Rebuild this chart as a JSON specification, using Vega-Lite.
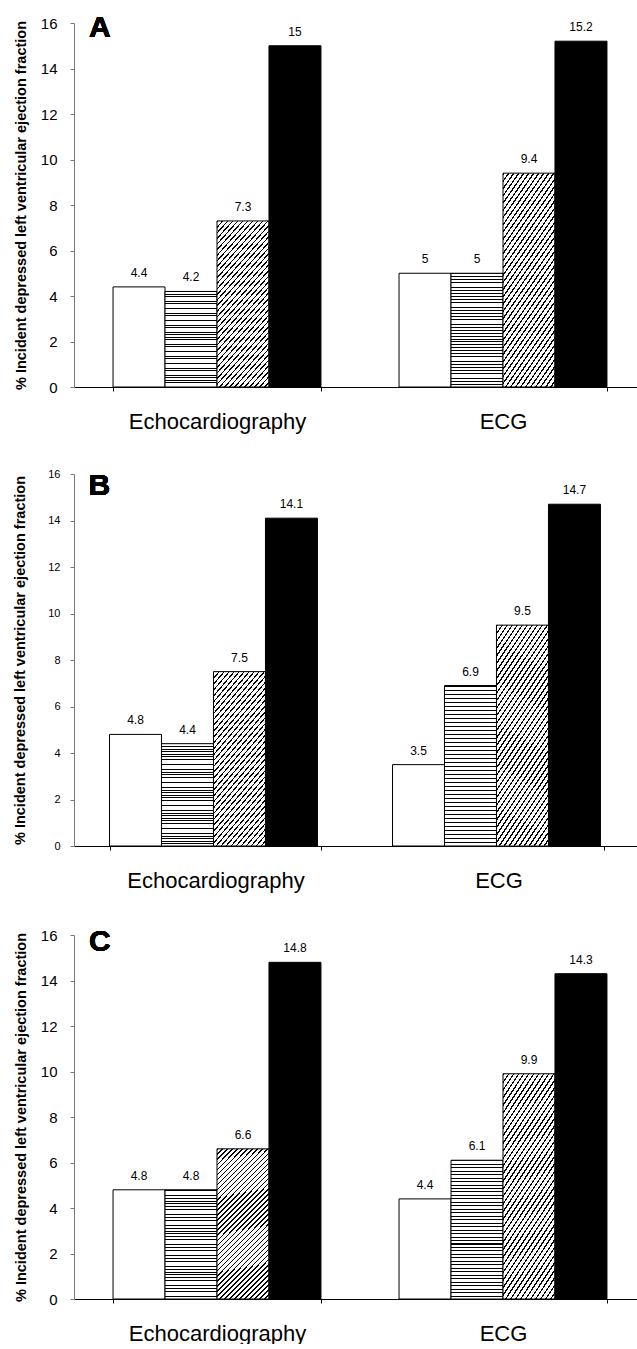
{
"$schema": "https://vega.github.io/schema/vega-lite/v6.json",
"padding": {"left": 12, "top": 13, "right": 0, "bottom": 0},
"autosize": {"type": "pad"},
"columns": 1,
"spacing": 36,
"datasets": {
"A": [
{"group": "Echocardiography", "cat": "w", "value": 4.4},
{"group": "Echocardiography", "cat": "h", "value": 4.2},
{"group": "Echocardiography", "cat": "d", "value": 7.3},
{"group": "Echocardiography", "cat": "b", "value": 15},
{"group": "ECG", "cat": "w", "value": 5},
{"group": "ECG", "cat": "h", "value": 5},
{"group": "ECG", "cat": "d", "value": 9.4},
{"group": "ECG", "cat": "b", "value": 15.2}
],
"B": [
{"group": "Echocardiography", "cat": "w", "value": 4.8},
{"group": "Echocardiography", "cat": "h", "value": 4.4},
{"group": "Echocardiography", "cat": "d", "value": 7.5},
{"group": "Echocardiography", "cat": "b", "value": 14.1},
{"group": "ECG", "cat": "w", "value": 3.5},
{"group": "ECG", "cat": "h", "value": 6.9},
{"group": "ECG", "cat": "d", "value": 9.5},
{"group": "ECG", "cat": "b", "value": 14.7}
],
"C": [
{"group": "Echocardiography", "cat": "w", "value": 4.8},
{"group": "Echocardiography", "cat": "h", "value": 4.8},
{"group": "Echocardiography", "cat": "d", "value": 6.6},
{"group": "Echocardiography", "cat": "b", "value": 14.8},
{"group": "ECG", "cat": "w", "value": 4.4},
{"group": "ECG", "cat": "h", "value": 6.1},
{"group": "ECG", "cat": "d", "value": 9.9},
{"group": "ECG", "cat": "b", "value": 14.3}
]
},
"concat": [
{
"width": 572, "height": 364,
"data": {"name": "A"},
"encoding": {
"x": {"field": "group", "type": "nominal", "sort": ["Echocardiography", "ECG"], "scale": {"paddingInner": 0.273, "paddingOuter": 0.1365},
"axis": {"title": null, "labelFontSize": 22, "labelColor": "#000", "labelPadding": 20, "labelAngle": 0, "tickBand": "extent", "tickSize": 4, "tickColor": "#000", "domainColor": "#000", "grid": false}},
"xOffset": {"field": "cat", "type": "nominal", "scale": {"domain": ["w", "h", "d", "b"], "paddingInner": 0, "paddingOuter": 0}},
"y": {"field": "value", "type": "quantitative", "scale": {"domain": [0, 16], "nice": false},
"axis": {"values": [0, 2, 4, 6, 8, 10, 12, 14, 16], "title": "% Incident depressed left ventricular ejection fraction", "titleFontSize": 14.5, "titleFontWeight": "bold", "titleColor": "#000", "titlePadding": 12, "labelFontSize": 15, "labelColor": "#000", "labelPadding": 13, "tickSize": 4, "tickColor": "#777", "domainColor": "#777", "grid": false}}
},
"layer": [
{"transform": [{"filter": "datum.cat == 'w'"}], "mark": {"type": "bar", "fill": "#fff", "stroke": "#000", "strokeWidth": 1}},
{"transform": [{"filter": "datum.cat == 'h'"}], "mark": {"type": "bar", "stroke": "#000", "strokeWidth": 1, "fill": {"gradient": "linear", "x1": 0, "y1": 0, "x2": 0, "y2": 1, "stops": [
{"offset":0,"color":"#000"},{"offset":0.0075,"color":"#000"},{"offset":0.0075,"color":"#fff"},{"offset":0.025,"color":"#fff"},
{"offset":0.025,"color":"#000"},{"offset":0.0325,"color":"#000"},{"offset":0.0325,"color":"#fff"},{"offset":0.05,"color":"#fff"},
{"offset":0.05,"color":"#000"},{"offset":0.0575,"color":"#000"},{"offset":0.0575,"color":"#fff"},{"offset":0.075,"color":"#fff"},
{"offset":0.075,"color":"#000"},{"offset":0.0825,"color":"#000"},{"offset":0.0825,"color":"#fff"},{"offset":0.1,"color":"#fff"},
{"offset":0.1,"color":"#000"},{"offset":0.1075,"color":"#000"},{"offset":0.1075,"color":"#fff"},{"offset":0.125,"color":"#fff"},
{"offset":0.125,"color":"#000"},{"offset":0.1325,"color":"#000"},{"offset":0.1325,"color":"#fff"},{"offset":0.15,"color":"#fff"},
{"offset":0.15,"color":"#000"},{"offset":0.1575,"color":"#000"},{"offset":0.1575,"color":"#fff"},{"offset":0.175,"color":"#fff"},
{"offset":0.175,"color":"#000"},{"offset":0.1825,"color":"#000"},{"offset":0.1825,"color":"#fff"},{"offset":0.2,"color":"#fff"},
{"offset":0.2,"color":"#000"},{"offset":0.2075,"color":"#000"},{"offset":0.2075,"color":"#fff"},{"offset":0.225,"color":"#fff"},
{"offset":0.225,"color":"#000"},{"offset":0.2325,"color":"#000"},{"offset":0.2325,"color":"#fff"},{"offset":0.25,"color":"#fff"},
{"offset":0.25,"color":"#000"},{"offset":0.2575,"color":"#000"},{"offset":0.2575,"color":"#fff"},{"offset":0.275,"color":"#fff"},
{"offset":0.275,"color":"#000"},{"offset":0.2825,"color":"#000"},{"offset":0.2825,"color":"#fff"},{"offset":0.3,"color":"#fff"},
{"offset":0.3,"color":"#000"},{"offset":0.3075,"color":"#000"},{"offset":0.3075,"color":"#fff"},{"offset":0.325,"color":"#fff"},
{"offset":0.325,"color":"#000"},{"offset":0.3325,"color":"#000"},{"offset":0.3325,"color":"#fff"},{"offset":0.35,"color":"#fff"},
{"offset":0.35,"color":"#000"},{"offset":0.3575,"color":"#000"},{"offset":0.3575,"color":"#fff"},{"offset":0.375,"color":"#fff"},
{"offset":0.375,"color":"#000"},{"offset":0.3825,"color":"#000"},{"offset":0.3825,"color":"#fff"},{"offset":0.4,"color":"#fff"},
{"offset":0.4,"color":"#000"},{"offset":0.4075,"color":"#000"},{"offset":0.4075,"color":"#fff"},{"offset":0.425,"color":"#fff"},
{"offset":0.425,"color":"#000"},{"offset":0.4325,"color":"#000"},{"offset":0.4325,"color":"#fff"},{"offset":0.45,"color":"#fff"},
{"offset":0.45,"color":"#000"},{"offset":0.4575,"color":"#000"},{"offset":0.4575,"color":"#fff"},{"offset":0.475,"color":"#fff"},
{"offset":0.475,"color":"#000"},{"offset":0.4825,"color":"#000"},{"offset":0.4825,"color":"#fff"},{"offset":0.5,"color":"#fff"},
{"offset":0.5,"color":"#000"},{"offset":0.5075,"color":"#000"},{"offset":0.5075,"color":"#fff"},{"offset":0.525,"color":"#fff"},
{"offset":0.525,"color":"#000"},{"offset":0.5325,"color":"#000"},{"offset":0.5325,"color":"#fff"},{"offset":0.55,"color":"#fff"},
{"offset":0.55,"color":"#000"},{"offset":0.5575,"color":"#000"},{"offset":0.5575,"color":"#fff"},{"offset":0.575,"color":"#fff"},
{"offset":0.575,"color":"#000"},{"offset":0.5825,"color":"#000"},{"offset":0.5825,"color":"#fff"},{"offset":0.6,"color":"#fff"},
{"offset":0.6,"color":"#000"},{"offset":0.6075,"color":"#000"},{"offset":0.6075,"color":"#fff"},{"offset":0.625,"color":"#fff"},
{"offset":0.625,"color":"#000"},{"offset":0.6325,"color":"#000"},{"offset":0.6325,"color":"#fff"},{"offset":0.65,"color":"#fff"},
{"offset":0.65,"color":"#000"},{"offset":0.6575,"color":"#000"},{"offset":0.6575,"color":"#fff"},{"offset":0.675,"color":"#fff"},
{"offset":0.675,"color":"#000"},{"offset":0.6825,"color":"#000"},{"offset":0.6825,"color":"#fff"},{"offset":0.7,"color":"#fff"},
{"offset":0.7,"color":"#000"},{"offset":0.7075,"color":"#000"},{"offset":0.7075,"color":"#fff"},{"offset":0.725,"color":"#fff"},
{"offset":0.725,"color":"#000"},{"offset":0.7325,"color":"#000"},{"offset":0.7325,"color":"#fff"},{"offset":0.75,"color":"#fff"},
{"offset":0.75,"color":"#000"},{"offset":0.7575,"color":"#000"},{"offset":0.7575,"color":"#fff"},{"offset":0.775,"color":"#fff"},
{"offset":0.775,"color":"#000"},{"offset":0.7825,"color":"#000"},{"offset":0.7825,"color":"#fff"},{"offset":0.8,"color":"#fff"},
{"offset":0.8,"color":"#000"},{"offset":0.8075,"color":"#000"},{"offset":0.8075,"color":"#fff"},{"offset":0.825,"color":"#fff"},
{"offset":0.825,"color":"#000"},{"offset":0.8325,"color":"#000"},{"offset":0.8325,"color":"#fff"},{"offset":0.85,"color":"#fff"},
{"offset":0.85,"color":"#000"},{"offset":0.8575,"color":"#000"},{"offset":0.8575,"color":"#fff"},{"offset":0.875,"color":"#fff"},
{"offset":0.875,"color":"#000"},{"offset":0.8825,"color":"#000"},{"offset":0.8825,"color":"#fff"},{"offset":0.9,"color":"#fff"},
{"offset":0.9,"color":"#000"},{"offset":0.9075,"color":"#000"},{"offset":0.9075,"color":"#fff"},{"offset":0.925,"color":"#fff"},
{"offset":0.925,"color":"#000"},{"offset":0.9325,"color":"#000"},{"offset":0.9325,"color":"#fff"},{"offset":0.95,"color":"#fff"},
{"offset":0.95,"color":"#000"},{"offset":0.9575,"color":"#000"},{"offset":0.9575,"color":"#fff"},{"offset":0.975,"color":"#fff"},
{"offset":0.975,"color":"#000"},{"offset":0.9825,"color":"#000"},{"offset":0.9825,"color":"#fff"},{"offset":1,"color":"#fff"}
]}}},
{"transform": [{"filter": "datum.cat == 'd'"}], "mark": {"type": "bar", "stroke": "#000", "strokeWidth": 1, "fill": {"gradient": "linear", "x1": 0, "y1": 0, "x2": 0.421, "y2": 1.2027, "stops": [
{"offset":0,"color":"#000"},{"offset":0.0075,"color":"#000"},{"offset":0.0075,"color":"#fff"},{"offset":0.025,"color":"#fff"},
{"offset":0.025,"color":"#000"},{"offset":0.0325,"color":"#000"},{"offset":0.0325,"color":"#fff"},{"offset":0.05,"color":"#fff"},
{"offset":0.05,"color":"#000"},{"offset":0.0575,"color":"#000"},{"offset":0.0575,"color":"#fff"},{"offset":0.075,"color":"#fff"},
{"offset":0.075,"color":"#000"},{"offset":0.0825,"color":"#000"},{"offset":0.0825,"color":"#fff"},{"offset":0.1,"color":"#fff"},
{"offset":0.1,"color":"#000"},{"offset":0.1075,"color":"#000"},{"offset":0.1075,"color":"#fff"},{"offset":0.125,"color":"#fff"},
{"offset":0.125,"color":"#000"},{"offset":0.1325,"color":"#000"},{"offset":0.1325,"color":"#fff"},{"offset":0.15,"color":"#fff"},
{"offset":0.15,"color":"#000"},{"offset":0.1575,"color":"#000"},{"offset":0.1575,"color":"#fff"},{"offset":0.175,"color":"#fff"},
{"offset":0.175,"color":"#000"},{"offset":0.1825,"color":"#000"},{"offset":0.1825,"color":"#fff"},{"offset":0.2,"color":"#fff"},
{"offset":0.2,"color":"#000"},{"offset":0.2075,"color":"#000"},{"offset":0.2075,"color":"#fff"},{"offset":0.225,"color":"#fff"},
{"offset":0.225,"color":"#000"},{"offset":0.2325,"color":"#000"},{"offset":0.2325,"color":"#fff"},{"offset":0.25,"color":"#fff"},
{"offset":0.25,"color":"#000"},{"offset":0.2575,"color":"#000"},{"offset":0.2575,"color":"#fff"},{"offset":0.275,"color":"#fff"},
{"offset":0.275,"color":"#000"},{"offset":0.2825,"color":"#000"},{"offset":0.2825,"color":"#fff"},{"offset":0.3,"color":"#fff"},
{"offset":0.3,"color":"#000"},{"offset":0.3075,"color":"#000"},{"offset":0.3075,"color":"#fff"},{"offset":0.325,"color":"#fff"},
{"offset":0.325,"color":"#000"},{"offset":0.3325,"color":"#000"},{"offset":0.3325,"color":"#fff"},{"offset":0.35,"color":"#fff"},
{"offset":0.35,"color":"#000"},{"offset":0.3575,"color":"#000"},{"offset":0.3575,"color":"#fff"},{"offset":0.375,"color":"#fff"},
{"offset":0.375,"color":"#000"},{"offset":0.3825,"color":"#000"},{"offset":0.3825,"color":"#fff"},{"offset":0.4,"color":"#fff"},
{"offset":0.4,"color":"#000"},{"offset":0.4075,"color":"#000"},{"offset":0.4075,"color":"#fff"},{"offset":0.425,"color":"#fff"},
{"offset":0.425,"color":"#000"},{"offset":0.4325,"color":"#000"},{"offset":0.4325,"color":"#fff"},{"offset":0.45,"color":"#fff"},
{"offset":0.45,"color":"#000"},{"offset":0.4575,"color":"#000"},{"offset":0.4575,"color":"#fff"},{"offset":0.475,"color":"#fff"},
{"offset":0.475,"color":"#000"},{"offset":0.4825,"color":"#000"},{"offset":0.4825,"color":"#fff"},{"offset":0.5,"color":"#fff"},
{"offset":0.5,"color":"#000"},{"offset":0.5075,"color":"#000"},{"offset":0.5075,"color":"#fff"},{"offset":0.525,"color":"#fff"},
{"offset":0.525,"color":"#000"},{"offset":0.5325,"color":"#000"},{"offset":0.5325,"color":"#fff"},{"offset":0.55,"color":"#fff"},
{"offset":0.55,"color":"#000"},{"offset":0.5575,"color":"#000"},{"offset":0.5575,"color":"#fff"},{"offset":0.575,"color":"#fff"},
{"offset":0.575,"color":"#000"},{"offset":0.5825,"color":"#000"},{"offset":0.5825,"color":"#fff"},{"offset":0.6,"color":"#fff"},
{"offset":0.6,"color":"#000"},{"offset":0.6075,"color":"#000"},{"offset":0.6075,"color":"#fff"},{"offset":0.625,"color":"#fff"},
{"offset":0.625,"color":"#000"},{"offset":0.6325,"color":"#000"},{"offset":0.6325,"color":"#fff"},{"offset":0.65,"color":"#fff"},
{"offset":0.65,"color":"#000"},{"offset":0.6575,"color":"#000"},{"offset":0.6575,"color":"#fff"},{"offset":0.675,"color":"#fff"},
{"offset":0.675,"color":"#000"},{"offset":0.6825,"color":"#000"},{"offset":0.6825,"color":"#fff"},{"offset":0.7,"color":"#fff"},
{"offset":0.7,"color":"#000"},{"offset":0.7075,"color":"#000"},{"offset":0.7075,"color":"#fff"},{"offset":0.725,"color":"#fff"},
{"offset":0.725,"color":"#000"},{"offset":0.7325,"color":"#000"},{"offset":0.7325,"color":"#fff"},{"offset":0.75,"color":"#fff"},
{"offset":0.75,"color":"#000"},{"offset":0.7575,"color":"#000"},{"offset":0.7575,"color":"#fff"},{"offset":0.775,"color":"#fff"},
{"offset":0.775,"color":"#000"},{"offset":0.7825,"color":"#000"},{"offset":0.7825,"color":"#fff"},{"offset":0.8,"color":"#fff"},
{"offset":0.8,"color":"#000"},{"offset":0.8075,"color":"#000"},{"offset":0.8075,"color":"#fff"},{"offset":0.825,"color":"#fff"},
{"offset":0.825,"color":"#000"},{"offset":0.8325,"color":"#000"},{"offset":0.8325,"color":"#fff"},{"offset":0.85,"color":"#fff"},
{"offset":0.85,"color":"#000"},{"offset":0.8575,"color":"#000"},{"offset":0.8575,"color":"#fff"},{"offset":0.875,"color":"#fff"},
{"offset":0.875,"color":"#000"},{"offset":0.8825,"color":"#000"},{"offset":0.8825,"color":"#fff"},{"offset":0.9,"color":"#fff"},
{"offset":0.9,"color":"#000"},{"offset":0.9075,"color":"#000"},{"offset":0.9075,"color":"#fff"},{"offset":0.925,"color":"#fff"},
{"offset":0.925,"color":"#000"},{"offset":0.9325,"color":"#000"},{"offset":0.9325,"color":"#fff"},{"offset":0.95,"color":"#fff"},
{"offset":0.95,"color":"#000"},{"offset":0.9575,"color":"#000"},{"offset":0.9575,"color":"#fff"},{"offset":0.975,"color":"#fff"},
{"offset":0.975,"color":"#000"},{"offset":0.9825,"color":"#000"},{"offset":0.9825,"color":"#fff"},{"offset":1,"color":"#fff"}
]}}},
{"transform": [{"filter": "datum.cat == 'b'"}], "mark": {"type": "bar", "fill": "#000", "stroke": "#000", "strokeWidth": 1}},
{"mark": {"type": "text", "baseline": "alphabetic", "dy": -10, "fontSize": 12, "color": "#000"}, "encoding": {"text": {"field": "value", "type": "quantitative", "format": "~g"}}},
{"mark": {"type": "text", "align": "left", "baseline": "alphabetic", "dx": -50, "dy": 14, "fontSize": 30, "fontWeight": "bold", "color": "#000"},
"encoding": {"x": {"datum": "Echocardiography", "type": "nominal"}, "xOffset": {"datum": "w", "type": "nominal"}, "y": {"datum": 16, "type": "quantitative"}, "text": {"datum": "A"}}}
]
},
{
"width": 566, "height": 372,
"data": {"name": "B"},
"encoding": {
"x": {"field": "group", "type": "nominal", "sort": ["Echocardiography", "ECG"], "scale": {"paddingInner": 0.251, "paddingOuter": 0.1255},
"axis": {"title": null, "labelFontSize": 22, "labelColor": "#000", "labelPadding": 20, "labelAngle": 0, "tickBand": "extent", "tickSize": 4, "tickColor": "#000", "domainColor": "#000", "grid": false}},
"xOffset": {"field": "cat", "type": "nominal", "scale": {"domain": ["w", "h", "d", "b"], "paddingInner": 0, "paddingOuter": 0}},
"y": {"field": "value", "type": "quantitative", "scale": {"domain": [0, 16], "nice": false},
"axis": {"values": [0, 2, 4, 6, 8, 10, 12, 14, 16], "title": "% Incident depressed left ventricular ejection fraction", "titleFontSize": 14.5, "titleFontWeight": "bold", "titleColor": "#000", "titlePadding": 20, "labelFontSize": 11, "labelColor": "#000", "labelPadding": 10, "tickSize": 4, "tickColor": "#777", "domainColor": "#777", "grid": false}}
},
"layer": [
{"transform": [{"filter": "datum.cat == 'w'"}], "mark": {"type": "bar", "fill": "#fff", "stroke": "#000", "strokeWidth": 1}},
{"transform": [{"filter": "datum.cat == 'h'"}], "mark": {"type": "bar", "stroke": "#000", "strokeWidth": 1, "fill": {"gradient": "linear", "x1": 0, "y1": 0, "x2": 0, "y2": 1, "stops": [
{"offset":0,"color":"#000"},{"offset":0.0075,"color":"#000"},{"offset":0.0075,"color":"#fff"},{"offset":0.025,"color":"#fff"},
{"offset":0.025,"color":"#000"},{"offset":0.0325,"color":"#000"},{"offset":0.0325,"color":"#fff"},{"offset":0.05,"color":"#fff"},
{"offset":0.05,"color":"#000"},{"offset":0.0575,"color":"#000"},{"offset":0.0575,"color":"#fff"},{"offset":0.075,"color":"#fff"},
{"offset":0.075,"color":"#000"},{"offset":0.0825,"color":"#000"},{"offset":0.0825,"color":"#fff"},{"offset":0.1,"color":"#fff"},
{"offset":0.1,"color":"#000"},{"offset":0.1075,"color":"#000"},{"offset":0.1075,"color":"#fff"},{"offset":0.125,"color":"#fff"},
{"offset":0.125,"color":"#000"},{"offset":0.1325,"color":"#000"},{"offset":0.1325,"color":"#fff"},{"offset":0.15,"color":"#fff"},
{"offset":0.15,"color":"#000"},{"offset":0.1575,"color":"#000"},{"offset":0.1575,"color":"#fff"},{"offset":0.175,"color":"#fff"},
{"offset":0.175,"color":"#000"},{"offset":0.1825,"color":"#000"},{"offset":0.1825,"color":"#fff"},{"offset":0.2,"color":"#fff"},
{"offset":0.2,"color":"#000"},{"offset":0.2075,"color":"#000"},{"offset":0.2075,"color":"#fff"},{"offset":0.225,"color":"#fff"},
{"offset":0.225,"color":"#000"},{"offset":0.2325,"color":"#000"},{"offset":0.2325,"color":"#fff"},{"offset":0.25,"color":"#fff"},
{"offset":0.25,"color":"#000"},{"offset":0.2575,"color":"#000"},{"offset":0.2575,"color":"#fff"},{"offset":0.275,"color":"#fff"},
{"offset":0.275,"color":"#000"},{"offset":0.2825,"color":"#000"},{"offset":0.2825,"color":"#fff"},{"offset":0.3,"color":"#fff"},
{"offset":0.3,"color":"#000"},{"offset":0.3075,"color":"#000"},{"offset":0.3075,"color":"#fff"},{"offset":0.325,"color":"#fff"},
{"offset":0.325,"color":"#000"},{"offset":0.3325,"color":"#000"},{"offset":0.3325,"color":"#fff"},{"offset":0.35,"color":"#fff"},
{"offset":0.35,"color":"#000"},{"offset":0.3575,"color":"#000"},{"offset":0.3575,"color":"#fff"},{"offset":0.375,"color":"#fff"},
{"offset":0.375,"color":"#000"},{"offset":0.3825,"color":"#000"},{"offset":0.3825,"color":"#fff"},{"offset":0.4,"color":"#fff"},
{"offset":0.4,"color":"#000"},{"offset":0.4075,"color":"#000"},{"offset":0.4075,"color":"#fff"},{"offset":0.425,"color":"#fff"},
{"offset":0.425,"color":"#000"},{"offset":0.4325,"color":"#000"},{"offset":0.4325,"color":"#fff"},{"offset":0.45,"color":"#fff"},
{"offset":0.45,"color":"#000"},{"offset":0.4575,"color":"#000"},{"offset":0.4575,"color":"#fff"},{"offset":0.475,"color":"#fff"},
{"offset":0.475,"color":"#000"},{"offset":0.4825,"color":"#000"},{"offset":0.4825,"color":"#fff"},{"offset":0.5,"color":"#fff"},
{"offset":0.5,"color":"#000"},{"offset":0.5075,"color":"#000"},{"offset":0.5075,"color":"#fff"},{"offset":0.525,"color":"#fff"},
{"offset":0.525,"color":"#000"},{"offset":0.5325,"color":"#000"},{"offset":0.5325,"color":"#fff"},{"offset":0.55,"color":"#fff"},
{"offset":0.55,"color":"#000"},{"offset":0.5575,"color":"#000"},{"offset":0.5575,"color":"#fff"},{"offset":0.575,"color":"#fff"},
{"offset":0.575,"color":"#000"},{"offset":0.5825,"color":"#000"},{"offset":0.5825,"color":"#fff"},{"offset":0.6,"color":"#fff"},
{"offset":0.6,"color":"#000"},{"offset":0.6075,"color":"#000"},{"offset":0.6075,"color":"#fff"},{"offset":0.625,"color":"#fff"},
{"offset":0.625,"color":"#000"},{"offset":0.6325,"color":"#000"},{"offset":0.6325,"color":"#fff"},{"offset":0.65,"color":"#fff"},
{"offset":0.65,"color":"#000"},{"offset":0.6575,"color":"#000"},{"offset":0.6575,"color":"#fff"},{"offset":0.675,"color":"#fff"},
{"offset":0.675,"color":"#000"},{"offset":0.6825,"color":"#000"},{"offset":0.6825,"color":"#fff"},{"offset":0.7,"color":"#fff"},
{"offset":0.7,"color":"#000"},{"offset":0.7075,"color":"#000"},{"offset":0.7075,"color":"#fff"},{"offset":0.725,"color":"#fff"},
{"offset":0.725,"color":"#000"},{"offset":0.7325,"color":"#000"},{"offset":0.7325,"color":"#fff"},{"offset":0.75,"color":"#fff"},
{"offset":0.75,"color":"#000"},{"offset":0.7575,"color":"#000"},{"offset":0.7575,"color":"#fff"},{"offset":0.775,"color":"#fff"},
{"offset":0.775,"color":"#000"},{"offset":0.7825,"color":"#000"},{"offset":0.7825,"color":"#fff"},{"offset":0.8,"color":"#fff"},
{"offset":0.8,"color":"#000"},{"offset":0.8075,"color":"#000"},{"offset":0.8075,"color":"#fff"},{"offset":0.825,"color":"#fff"},
{"offset":0.825,"color":"#000"},{"offset":0.8325,"color":"#000"},{"offset":0.8325,"color":"#fff"},{"offset":0.85,"color":"#fff"},
{"offset":0.85,"color":"#000"},{"offset":0.8575,"color":"#000"},{"offset":0.8575,"color":"#fff"},{"offset":0.875,"color":"#fff"},
{"offset":0.875,"color":"#000"},{"offset":0.8825,"color":"#000"},{"offset":0.8825,"color":"#fff"},{"offset":0.9,"color":"#fff"},
{"offset":0.9,"color":"#000"},{"offset":0.9075,"color":"#000"},{"offset":0.9075,"color":"#fff"},{"offset":0.925,"color":"#fff"},
{"offset":0.925,"color":"#000"},{"offset":0.9325,"color":"#000"},{"offset":0.9325,"color":"#fff"},{"offset":0.95,"color":"#fff"},
{"offset":0.95,"color":"#000"},{"offset":0.9575,"color":"#000"},{"offset":0.9575,"color":"#fff"},{"offset":0.975,"color":"#fff"},
{"offset":0.975,"color":"#000"},{"offset":0.9825,"color":"#000"},{"offset":0.9825,"color":"#fff"},{"offset":1,"color":"#fff"}
]}}},
{"transform": [{"filter": "datum.cat == 'd'"}], "mark": {"type": "bar", "stroke": "#000", "strokeWidth": 1, "fill": {"gradient": "linear", "x1": 0, "y1": 0, "x2": 0.421, "y2": 1.2027, "stops": [
{"offset":0,"color":"#000"},{"offset":0.0075,"color":"#000"},{"offset":0.0075,"color":"#fff"},{"offset":0.025,"color":"#fff"},
{"offset":0.025,"color":"#000"},{"offset":0.0325,"color":"#000"},{"offset":0.0325,"color":"#fff"},{"offset":0.05,"color":"#fff"},
{"offset":0.05,"color":"#000"},{"offset":0.0575,"color":"#000"},{"offset":0.0575,"color":"#fff"},{"offset":0.075,"color":"#fff"},
{"offset":0.075,"color":"#000"},{"offset":0.0825,"color":"#000"},{"offset":0.0825,"color":"#fff"},{"offset":0.1,"color":"#fff"},
{"offset":0.1,"color":"#000"},{"offset":0.1075,"color":"#000"},{"offset":0.1075,"color":"#fff"},{"offset":0.125,"color":"#fff"},
{"offset":0.125,"color":"#000"},{"offset":0.1325,"color":"#000"},{"offset":0.1325,"color":"#fff"},{"offset":0.15,"color":"#fff"},
{"offset":0.15,"color":"#000"},{"offset":0.1575,"color":"#000"},{"offset":0.1575,"color":"#fff"},{"offset":0.175,"color":"#fff"},
{"offset":0.175,"color":"#000"},{"offset":0.1825,"color":"#000"},{"offset":0.1825,"color":"#fff"},{"offset":0.2,"color":"#fff"},
{"offset":0.2,"color":"#000"},{"offset":0.2075,"color":"#000"},{"offset":0.2075,"color":"#fff"},{"offset":0.225,"color":"#fff"},
{"offset":0.225,"color":"#000"},{"offset":0.2325,"color":"#000"},{"offset":0.2325,"color":"#fff"},{"offset":0.25,"color":"#fff"},
{"offset":0.25,"color":"#000"},{"offset":0.2575,"color":"#000"},{"offset":0.2575,"color":"#fff"},{"offset":0.275,"color":"#fff"},
{"offset":0.275,"color":"#000"},{"offset":0.2825,"color":"#000"},{"offset":0.2825,"color":"#fff"},{"offset":0.3,"color":"#fff"},
{"offset":0.3,"color":"#000"},{"offset":0.3075,"color":"#000"},{"offset":0.3075,"color":"#fff"},{"offset":0.325,"color":"#fff"},
{"offset":0.325,"color":"#000"},{"offset":0.3325,"color":"#000"},{"offset":0.3325,"color":"#fff"},{"offset":0.35,"color":"#fff"},
{"offset":0.35,"color":"#000"},{"offset":0.3575,"color":"#000"},{"offset":0.3575,"color":"#fff"},{"offset":0.375,"color":"#fff"},
{"offset":0.375,"color":"#000"},{"offset":0.3825,"color":"#000"},{"offset":0.3825,"color":"#fff"},{"offset":0.4,"color":"#fff"},
{"offset":0.4,"color":"#000"},{"offset":0.4075,"color":"#000"},{"offset":0.4075,"color":"#fff"},{"offset":0.425,"color":"#fff"},
{"offset":0.425,"color":"#000"},{"offset":0.4325,"color":"#000"},{"offset":0.4325,"color":"#fff"},{"offset":0.45,"color":"#fff"},
{"offset":0.45,"color":"#000"},{"offset":0.4575,"color":"#000"},{"offset":0.4575,"color":"#fff"},{"offset":0.475,"color":"#fff"},
{"offset":0.475,"color":"#000"},{"offset":0.4825,"color":"#000"},{"offset":0.4825,"color":"#fff"},{"offset":0.5,"color":"#fff"},
{"offset":0.5,"color":"#000"},{"offset":0.5075,"color":"#000"},{"offset":0.5075,"color":"#fff"},{"offset":0.525,"color":"#fff"},
{"offset":0.525,"color":"#000"},{"offset":0.5325,"color":"#000"},{"offset":0.5325,"color":"#fff"},{"offset":0.55,"color":"#fff"},
{"offset":0.55,"color":"#000"},{"offset":0.5575,"color":"#000"},{"offset":0.5575,"color":"#fff"},{"offset":0.575,"color":"#fff"},
{"offset":0.575,"color":"#000"},{"offset":0.5825,"color":"#000"},{"offset":0.5825,"color":"#fff"},{"offset":0.6,"color":"#fff"},
{"offset":0.6,"color":"#000"},{"offset":0.6075,"color":"#000"},{"offset":0.6075,"color":"#fff"},{"offset":0.625,"color":"#fff"},
{"offset":0.625,"color":"#000"},{"offset":0.6325,"color":"#000"},{"offset":0.6325,"color":"#fff"},{"offset":0.65,"color":"#fff"},
{"offset":0.65,"color":"#000"},{"offset":0.6575,"color":"#000"},{"offset":0.6575,"color":"#fff"},{"offset":0.675,"color":"#fff"},
{"offset":0.675,"color":"#000"},{"offset":0.6825,"color":"#000"},{"offset":0.6825,"color":"#fff"},{"offset":0.7,"color":"#fff"},
{"offset":0.7,"color":"#000"},{"offset":0.7075,"color":"#000"},{"offset":0.7075,"color":"#fff"},{"offset":0.725,"color":"#fff"},
{"offset":0.725,"color":"#000"},{"offset":0.7325,"color":"#000"},{"offset":0.7325,"color":"#fff"},{"offset":0.75,"color":"#fff"},
{"offset":0.75,"color":"#000"},{"offset":0.7575,"color":"#000"},{"offset":0.7575,"color":"#fff"},{"offset":0.775,"color":"#fff"},
{"offset":0.775,"color":"#000"},{"offset":0.7825,"color":"#000"},{"offset":0.7825,"color":"#fff"},{"offset":0.8,"color":"#fff"},
{"offset":0.8,"color":"#000"},{"offset":0.8075,"color":"#000"},{"offset":0.8075,"color":"#fff"},{"offset":0.825,"color":"#fff"},
{"offset":0.825,"color":"#000"},{"offset":0.8325,"color":"#000"},{"offset":0.8325,"color":"#fff"},{"offset":0.85,"color":"#fff"},
{"offset":0.85,"color":"#000"},{"offset":0.8575,"color":"#000"},{"offset":0.8575,"color":"#fff"},{"offset":0.875,"color":"#fff"},
{"offset":0.875,"color":"#000"},{"offset":0.8825,"color":"#000"},{"offset":0.8825,"color":"#fff"},{"offset":0.9,"color":"#fff"},
{"offset":0.9,"color":"#000"},{"offset":0.9075,"color":"#000"},{"offset":0.9075,"color":"#fff"},{"offset":0.925,"color":"#fff"},
{"offset":0.925,"color":"#000"},{"offset":0.9325,"color":"#000"},{"offset":0.9325,"color":"#fff"},{"offset":0.95,"color":"#fff"},
{"offset":0.95,"color":"#000"},{"offset":0.9575,"color":"#000"},{"offset":0.9575,"color":"#fff"},{"offset":0.975,"color":"#fff"},
{"offset":0.975,"color":"#000"},{"offset":0.9825,"color":"#000"},{"offset":0.9825,"color":"#fff"},{"offset":1,"color":"#fff"}
]}}},
{"transform": [{"filter": "datum.cat == 'b'"}], "mark": {"type": "bar", "fill": "#000", "stroke": "#000", "strokeWidth": 1}},
{"mark": {"type": "text", "baseline": "alphabetic", "dy": -10, "fontSize": 12, "color": "#000"}, "encoding": {"text": {"field": "value", "type": "quantitative", "format": "~g"}}},
{"mark": {"type": "text", "align": "left", "baseline": "alphabetic", "dx": -47, "dy": 21, "fontSize": 30, "fontWeight": "bold", "color": "#000"},
"encoding": {"x": {"datum": "Echocardiography", "type": "nominal"}, "xOffset": {"datum": "w", "type": "nominal"}, "y": {"datum": 16, "type": "quantitative"}, "text": {"datum": "B"}}}
]
},
{
"width": 572, "height": 364,
"data": {"name": "C"},
"encoding": {
"x": {"field": "group", "type": "nominal", "sort": ["Echocardiography", "ECG"], "scale": {"paddingInner": 0.273, "paddingOuter": 0.1365},
"axis": {"title": null, "labelFontSize": 22, "labelColor": "#000", "labelPadding": 20, "labelAngle": 0, "tickBand": "extent", "tickSize": 4, "tickColor": "#000", "domainColor": "#000", "grid": false}},
"xOffset": {"field": "cat", "type": "nominal", "scale": {"domain": ["w", "h", "d", "b"], "paddingInner": 0, "paddingOuter": 0}},
"y": {"field": "value", "type": "quantitative", "scale": {"domain": [0, 16], "nice": false},
"axis": {"values": [0, 2, 4, 6, 8, 10, 12, 14, 16], "title": "% Incident depressed left ventricular ejection fraction", "titleFontSize": 14.5, "titleFontWeight": "bold", "titleColor": "#000", "titlePadding": 12, "labelFontSize": 15, "labelColor": "#000", "labelPadding": 13, "tickSize": 4, "tickColor": "#777", "domainColor": "#777", "grid": false}}
},
"layer": [
{"transform": [{"filter": "datum.cat == 'w'"}], "mark": {"type": "bar", "fill": "#fff", "stroke": "#000", "strokeWidth": 1}},
{"transform": [{"filter": "datum.cat == 'h'"}], "mark": {"type": "bar", "stroke": "#000", "strokeWidth": 1, "fill": {"gradient": "linear", "x1": 0, "y1": 0, "x2": 0, "y2": 1, "stops": [
{"offset":0,"color":"#000"},{"offset":0.0075,"color":"#000"},{"offset":0.0075,"color":"#fff"},{"offset":0.025,"color":"#fff"},
{"offset":0.025,"color":"#000"},{"offset":0.0325,"color":"#000"},{"offset":0.0325,"color":"#fff"},{"offset":0.05,"color":"#fff"},
{"offset":0.05,"color":"#000"},{"offset":0.0575,"color":"#000"},{"offset":0.0575,"color":"#fff"},{"offset":0.075,"color":"#fff"},
{"offset":0.075,"color":"#000"},{"offset":0.0825,"color":"#000"},{"offset":0.0825,"color":"#fff"},{"offset":0.1,"color":"#fff"},
{"offset":0.1,"color":"#000"},{"offset":0.1075,"color":"#000"},{"offset":0.1075,"color":"#fff"},{"offset":0.125,"color":"#fff"},
{"offset":0.125,"color":"#000"},{"offset":0.1325,"color":"#000"},{"offset":0.1325,"color":"#fff"},{"offset":0.15,"color":"#fff"},
{"offset":0.15,"color":"#000"},{"offset":0.1575,"color":"#000"},{"offset":0.1575,"color":"#fff"},{"offset":0.175,"color":"#fff"},
{"offset":0.175,"color":"#000"},{"offset":0.1825,"color":"#000"},{"offset":0.1825,"color":"#fff"},{"offset":0.2,"color":"#fff"},
{"offset":0.2,"color":"#000"},{"offset":0.2075,"color":"#000"},{"offset":0.2075,"color":"#fff"},{"offset":0.225,"color":"#fff"},
{"offset":0.225,"color":"#000"},{"offset":0.2325,"color":"#000"},{"offset":0.2325,"color":"#fff"},{"offset":0.25,"color":"#fff"},
{"offset":0.25,"color":"#000"},{"offset":0.2575,"color":"#000"},{"offset":0.2575,"color":"#fff"},{"offset":0.275,"color":"#fff"},
{"offset":0.275,"color":"#000"},{"offset":0.2825,"color":"#000"},{"offset":0.2825,"color":"#fff"},{"offset":0.3,"color":"#fff"},
{"offset":0.3,"color":"#000"},{"offset":0.3075,"color":"#000"},{"offset":0.3075,"color":"#fff"},{"offset":0.325,"color":"#fff"},
{"offset":0.325,"color":"#000"},{"offset":0.3325,"color":"#000"},{"offset":0.3325,"color":"#fff"},{"offset":0.35,"color":"#fff"},
{"offset":0.35,"color":"#000"},{"offset":0.3575,"color":"#000"},{"offset":0.3575,"color":"#fff"},{"offset":0.375,"color":"#fff"},
{"offset":0.375,"color":"#000"},{"offset":0.3825,"color":"#000"},{"offset":0.3825,"color":"#fff"},{"offset":0.4,"color":"#fff"},
{"offset":0.4,"color":"#000"},{"offset":0.4075,"color":"#000"},{"offset":0.4075,"color":"#fff"},{"offset":0.425,"color":"#fff"},
{"offset":0.425,"color":"#000"},{"offset":0.4325,"color":"#000"},{"offset":0.4325,"color":"#fff"},{"offset":0.45,"color":"#fff"},
{"offset":0.45,"color":"#000"},{"offset":0.4575,"color":"#000"},{"offset":0.4575,"color":"#fff"},{"offset":0.475,"color":"#fff"},
{"offset":0.475,"color":"#000"},{"offset":0.4825,"color":"#000"},{"offset":0.4825,"color":"#fff"},{"offset":0.5,"color":"#fff"},
{"offset":0.5,"color":"#000"},{"offset":0.5075,"color":"#000"},{"offset":0.5075,"color":"#fff"},{"offset":0.525,"color":"#fff"},
{"offset":0.525,"color":"#000"},{"offset":0.5325,"color":"#000"},{"offset":0.5325,"color":"#fff"},{"offset":0.55,"color":"#fff"},
{"offset":0.55,"color":"#000"},{"offset":0.5575,"color":"#000"},{"offset":0.5575,"color":"#fff"},{"offset":0.575,"color":"#fff"},
{"offset":0.575,"color":"#000"},{"offset":0.5825,"color":"#000"},{"offset":0.5825,"color":"#fff"},{"offset":0.6,"color":"#fff"},
{"offset":0.6,"color":"#000"},{"offset":0.6075,"color":"#000"},{"offset":0.6075,"color":"#fff"},{"offset":0.625,"color":"#fff"},
{"offset":0.625,"color":"#000"},{"offset":0.6325,"color":"#000"},{"offset":0.6325,"color":"#fff"},{"offset":0.65,"color":"#fff"},
{"offset":0.65,"color":"#000"},{"offset":0.6575,"color":"#000"},{"offset":0.6575,"color":"#fff"},{"offset":0.675,"color":"#fff"},
{"offset":0.675,"color":"#000"},{"offset":0.6825,"color":"#000"},{"offset":0.6825,"color":"#fff"},{"offset":0.7,"color":"#fff"},
{"offset":0.7,"color":"#000"},{"offset":0.7075,"color":"#000"},{"offset":0.7075,"color":"#fff"},{"offset":0.725,"color":"#fff"},
{"offset":0.725,"color":"#000"},{"offset":0.7325,"color":"#000"},{"offset":0.7325,"color":"#fff"},{"offset":0.75,"color":"#fff"},
{"offset":0.75,"color":"#000"},{"offset":0.7575,"color":"#000"},{"offset":0.7575,"color":"#fff"},{"offset":0.775,"color":"#fff"},
{"offset":0.775,"color":"#000"},{"offset":0.7825,"color":"#000"},{"offset":0.7825,"color":"#fff"},{"offset":0.8,"color":"#fff"},
{"offset":0.8,"color":"#000"},{"offset":0.8075,"color":"#000"},{"offset":0.8075,"color":"#fff"},{"offset":0.825,"color":"#fff"},
{"offset":0.825,"color":"#000"},{"offset":0.8325,"color":"#000"},{"offset":0.8325,"color":"#fff"},{"offset":0.85,"color":"#fff"},
{"offset":0.85,"color":"#000"},{"offset":0.8575,"color":"#000"},{"offset":0.8575,"color":"#fff"},{"offset":0.875,"color":"#fff"},
{"offset":0.875,"color":"#000"},{"offset":0.8825,"color":"#000"},{"offset":0.8825,"color":"#fff"},{"offset":0.9,"color":"#fff"},
{"offset":0.9,"color":"#000"},{"offset":0.9075,"color":"#000"},{"offset":0.9075,"color":"#fff"},{"offset":0.925,"color":"#fff"},
{"offset":0.925,"color":"#000"},{"offset":0.9325,"color":"#000"},{"offset":0.9325,"color":"#fff"},{"offset":0.95,"color":"#fff"},
{"offset":0.95,"color":"#000"},{"offset":0.9575,"color":"#000"},{"offset":0.9575,"color":"#fff"},{"offset":0.975,"color":"#fff"},
{"offset":0.975,"color":"#000"},{"offset":0.9825,"color":"#000"},{"offset":0.9825,"color":"#fff"},{"offset":1,"color":"#fff"}
]}}},
{"transform": [{"filter": "datum.cat == 'd'"}], "mark": {"type": "bar", "stroke": "#000", "strokeWidth": 1, "fill": {"gradient": "linear", "x1": 0, "y1": 0, "x2": 0.421, "y2": 1.2027, "stops": [
{"offset":0,"color":"#000"},{"offset":0.0075,"color":"#000"},{"offset":0.0075,"color":"#fff"},{"offset":0.025,"color":"#fff"},
{"offset":0.025,"color":"#000"},{"offset":0.0325,"color":"#000"},{"offset":0.0325,"color":"#fff"},{"offset":0.05,"color":"#fff"},
{"offset":0.05,"color":"#000"},{"offset":0.0575,"color":"#000"},{"offset":0.0575,"color":"#fff"},{"offset":0.075,"color":"#fff"},
{"offset":0.075,"color":"#000"},{"offset":0.0825,"color":"#000"},{"offset":0.0825,"color":"#fff"},{"offset":0.1,"color":"#fff"},
{"offset":0.1,"color":"#000"},{"offset":0.1075,"color":"#000"},{"offset":0.1075,"color":"#fff"},{"offset":0.125,"color":"#fff"},
{"offset":0.125,"color":"#000"},{"offset":0.1325,"color":"#000"},{"offset":0.1325,"color":"#fff"},{"offset":0.15,"color":"#fff"},
{"offset":0.15,"color":"#000"},{"offset":0.1575,"color":"#000"},{"offset":0.1575,"color":"#fff"},{"offset":0.175,"color":"#fff"},
{"offset":0.175,"color":"#000"},{"offset":0.1825,"color":"#000"},{"offset":0.1825,"color":"#fff"},{"offset":0.2,"color":"#fff"},
{"offset":0.2,"color":"#000"},{"offset":0.2075,"color":"#000"},{"offset":0.2075,"color":"#fff"},{"offset":0.225,"color":"#fff"},
{"offset":0.225,"color":"#000"},{"offset":0.2325,"color":"#000"},{"offset":0.2325,"color":"#fff"},{"offset":0.25,"color":"#fff"},
{"offset":0.25,"color":"#000"},{"offset":0.2575,"color":"#000"},{"offset":0.2575,"color":"#fff"},{"offset":0.275,"color":"#fff"},
{"offset":0.275,"color":"#000"},{"offset":0.2825,"color":"#000"},{"offset":0.2825,"color":"#fff"},{"offset":0.3,"color":"#fff"},
{"offset":0.3,"color":"#000"},{"offset":0.3075,"color":"#000"},{"offset":0.3075,"color":"#fff"},{"offset":0.325,"color":"#fff"},
{"offset":0.325,"color":"#000"},{"offset":0.3325,"color":"#000"},{"offset":0.3325,"color":"#fff"},{"offset":0.35,"color":"#fff"},
{"offset":0.35,"color":"#000"},{"offset":0.3575,"color":"#000"},{"offset":0.3575,"color":"#fff"},{"offset":0.375,"color":"#fff"},
{"offset":0.375,"color":"#000"},{"offset":0.3825,"color":"#000"},{"offset":0.3825,"color":"#fff"},{"offset":0.4,"color":"#fff"},
{"offset":0.4,"color":"#000"},{"offset":0.4075,"color":"#000"},{"offset":0.4075,"color":"#fff"},{"offset":0.425,"color":"#fff"},
{"offset":0.425,"color":"#000"},{"offset":0.4325,"color":"#000"},{"offset":0.4325,"color":"#fff"},{"offset":0.45,"color":"#fff"},
{"offset":0.45,"color":"#000"},{"offset":0.4575,"color":"#000"},{"offset":0.4575,"color":"#fff"},{"offset":0.475,"color":"#fff"},
{"offset":0.475,"color":"#000"},{"offset":0.4825,"color":"#000"},{"offset":0.4825,"color":"#fff"},{"offset":0.5,"color":"#fff"},
{"offset":0.5,"color":"#000"},{"offset":0.5075,"color":"#000"},{"offset":0.5075,"color":"#fff"},{"offset":0.525,"color":"#fff"},
{"offset":0.525,"color":"#000"},{"offset":0.5325,"color":"#000"},{"offset":0.5325,"color":"#fff"},{"offset":0.55,"color":"#fff"},
{"offset":0.55,"color":"#000"},{"offset":0.5575,"color":"#000"},{"offset":0.5575,"color":"#fff"},{"offset":0.575,"color":"#fff"},
{"offset":0.575,"color":"#000"},{"offset":0.5825,"color":"#000"},{"offset":0.5825,"color":"#fff"},{"offset":0.6,"color":"#fff"},
{"offset":0.6,"color":"#000"},{"offset":0.6075,"color":"#000"},{"offset":0.6075,"color":"#fff"},{"offset":0.625,"color":"#fff"},
{"offset":0.625,"color":"#000"},{"offset":0.6325,"color":"#000"},{"offset":0.6325,"color":"#fff"},{"offset":0.65,"color":"#fff"},
{"offset":0.65,"color":"#000"},{"offset":0.6575,"color":"#000"},{"offset":0.6575,"color":"#fff"},{"offset":0.675,"color":"#fff"},
{"offset":0.675,"color":"#000"},{"offset":0.6825,"color":"#000"},{"offset":0.6825,"color":"#fff"},{"offset":0.7,"color":"#fff"},
{"offset":0.7,"color":"#000"},{"offset":0.7075,"color":"#000"},{"offset":0.7075,"color":"#fff"},{"offset":0.725,"color":"#fff"},
{"offset":0.725,"color":"#000"},{"offset":0.7325,"color":"#000"},{"offset":0.7325,"color":"#fff"},{"offset":0.75,"color":"#fff"},
{"offset":0.75,"color":"#000"},{"offset":0.7575,"color":"#000"},{"offset":0.7575,"color":"#fff"},{"offset":0.775,"color":"#fff"},
{"offset":0.775,"color":"#000"},{"offset":0.7825,"color":"#000"},{"offset":0.7825,"color":"#fff"},{"offset":0.8,"color":"#fff"},
{"offset":0.8,"color":"#000"},{"offset":0.8075,"color":"#000"},{"offset":0.8075,"color":"#fff"},{"offset":0.825,"color":"#fff"},
{"offset":0.825,"color":"#000"},{"offset":0.8325,"color":"#000"},{"offset":0.8325,"color":"#fff"},{"offset":0.85,"color":"#fff"},
{"offset":0.85,"color":"#000"},{"offset":0.8575,"color":"#000"},{"offset":0.8575,"color":"#fff"},{"offset":0.875,"color":"#fff"},
{"offset":0.875,"color":"#000"},{"offset":0.8825,"color":"#000"},{"offset":0.8825,"color":"#fff"},{"offset":0.9,"color":"#fff"},
{"offset":0.9,"color":"#000"},{"offset":0.9075,"color":"#000"},{"offset":0.9075,"color":"#fff"},{"offset":0.925,"color":"#fff"},
{"offset":0.925,"color":"#000"},{"offset":0.9325,"color":"#000"},{"offset":0.9325,"color":"#fff"},{"offset":0.95,"color":"#fff"},
{"offset":0.95,"color":"#000"},{"offset":0.9575,"color":"#000"},{"offset":0.9575,"color":"#fff"},{"offset":0.975,"color":"#fff"},
{"offset":0.975,"color":"#000"},{"offset":0.9825,"color":"#000"},{"offset":0.9825,"color":"#fff"},{"offset":1,"color":"#fff"}
]}}},
{"transform": [{"filter": "datum.cat == 'b'"}], "mark": {"type": "bar", "fill": "#000", "stroke": "#000", "strokeWidth": 1}},
{"mark": {"type": "text", "baseline": "alphabetic", "dy": -10, "fontSize": 12, "color": "#000"}, "encoding": {"text": {"field": "value", "type": "quantitative", "format": "~g"}}},
{"mark": {"type": "text", "align": "left", "baseline": "alphabetic", "dx": -50, "dy": 16, "fontSize": 30, "fontWeight": "bold", "color": "#000"},
"encoding": {"x": {"datum": "Echocardiography", "type": "nominal"}, "xOffset": {"datum": "w", "type": "nominal"}, "y": {"datum": 16, "type": "quantitative"}, "text": {"datum": "C"}}}
]
}
],
"config": {
"view": {"stroke": null},
"font": "Liberation Sans"
}
}
